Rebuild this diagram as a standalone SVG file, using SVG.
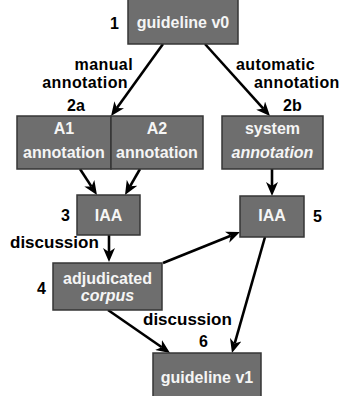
<svg xmlns="http://www.w3.org/2000/svg" width="340" height="396" viewBox="0 0 340 396">
<defs>
<style>
.box{fill:#6e6e6e;stroke:#363636;stroke-width:1.5}
.bt{font-family:"Liberation Sans",Arial,sans-serif;font-weight:bold;font-size:16px;fill:#f5f5f5;text-anchor:middle}
.lb{font-family:"Liberation Sans",Arial,sans-serif;font-weight:bold;font-size:17px;fill:#000}
.lb2{font-family:"Liberation Sans",Arial,sans-serif;font-weight:bold;font-size:16px;fill:#000;letter-spacing:0.4px}
.num{font-family:"Liberation Sans",Arial,sans-serif;font-weight:bold;font-size:16px;fill:#000}
.ar{stroke:#000;stroke-width:2.6;fill:none;marker-end:url(#ah)}
</style>
<marker id="ah" markerUnits="userSpaceOnUse" viewBox="0 0 14 12" markerWidth="14" markerHeight="12" refX="4" refY="6" orient="auto">
<path d="M0,0 L14,6 L0,12 L4,6 z" fill="#000"/>
</marker>
</defs>
<rect width="340" height="396" fill="#fff"/>
<g id="connectors">
<line class="ar" x1="163" y1="44" x2="116.9" y2="107.9"/>
<line class="ar" x1="205" y1="44" x2="263.3" y2="108.6"/>
<line class="ar" x1="80" y1="169" x2="91.5" y2="186.6"/>
<line class="ar" x1="140" y1="169" x2="130" y2="186.3"/>
<line class="ar" x1="272" y1="169" x2="272" y2="186"/>
<line class="ar" x1="109" y1="235" x2="109" y2="252"/>
<line class="ar" x1="163" y1="263" x2="230.7" y2="235.7"/>
<line class="ar" x1="265" y1="237" x2="234.7" y2="343.4"/>
<line class="ar" x1="108" y1="310" x2="161.8" y2="347.3"/>
<text class="lb2" x="133" y="70" text-anchor="end">manual</text>
<text class="lb2" x="128" y="88" text-anchor="end">annotation</text>
<text class="lb2" x="236" y="70">automatic</text>
<text class="lb2" x="254" y="88">annotation</text>
<text class="lb" x="10" y="248">discussion</text>
<text class="lb" x="143" y="325">discussion</text>
</g>
<g id="n1">
<rect class="box" x="128" y="-4" width="110" height="48"/>
<text class="bt" x="183" y="28" font-size="17">guideline v0</text>
<text class="num" x="110" y="29">1</text>
</g>
<g id="n2a">
<rect class="box" x="17" y="116" width="94" height="53"/>
<rect class="box" x="111" y="116" width="92" height="53"/>
<text class="bt" x="64" y="134">A1</text>
<text class="bt" x="64" y="158">annotation</text>
<text class="bt" x="157" y="134">A2</text>
<text class="bt" x="157" y="158">annotation</text>
<text class="num" x="67" y="111">2a</text>
</g>
<g id="n2b">
<rect class="box" x="222" y="116" width="101" height="53"/>
<text class="bt" x="272.5" y="134">system</text>
<text class="bt" x="272.5" y="158" font-style="italic">annotation</text>
<text class="num" x="283" y="111">2b</text>
</g>
<g id="n3">
<rect class="box" x="77" y="195" width="63" height="40"/>
<text class="bt" x="108.5" y="221">IAA</text>
<text class="num" x="61" y="221">3</text>
</g>
<g id="n5">
<rect class="box" x="240" y="196" width="64" height="41"/>
<text class="bt" x="272" y="221">IAA</text>
<text class="num" x="313" y="222">5</text>
</g>
<g id="n4">
<rect class="box" x="53" y="263" width="109" height="47"/>
<text class="bt" x="107.5" y="284">adjudicated</text>
<text class="bt" x="107.5" y="301" font-style="italic">corpus</text>
<text class="num" x="37" y="294">4</text>
</g>
<g id="n6">
<rect class="box" x="153" y="353" width="108" height="48"/>
<text class="bt" x="207" y="383" font-size="17">guideline v1</text>
<text class="num" x="199" y="347">6</text>
</g>
</svg>
